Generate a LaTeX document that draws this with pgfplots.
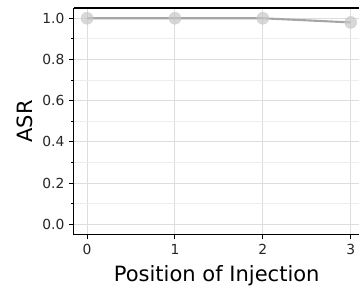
\documentclass[border=0pt]{standalone}
\usepackage{pgfplots}
\pgfplotsset{compat=1.18}
\usepackage{fontspec}
\setmainfont{DejaVu Sans}
\definecolor{gridmaj}{HTML}{DDDDDD}
\definecolor{gridmin}{HTML}{EEEEEE}
\definecolor{lin}{HTML}{A6A6A6}
\definecolor{mrk}{HTML}{C8C8C8}
\begin{document}
\begin{tikzpicture}
\begin{axis}[
  scale only axis,
  width=214.5pt, height=170.25pt,
  at={(0,0)}, anchor=south west,
  xmin=-0.15, xmax=3.10,
  ymin=-0.05, ymax=1.05,
  separate axis lines,
  axis x line=box,
  axis y line=left,
  axis line style={black, line width=0.8pt, -},
  xtick={0,1,2,3},
  ytick={0,0.2,0.4,0.6,0.8,1.0},
  minor ytick={0.1,0.3,0.5,0.7,0.9},
  tick align=outside,
  xtick pos=bottom, ytick pos=left,
  major tick length=3.6pt, minor tick length=2pt,
  tick style={black, line width=0.8pt},
  grid=both,
  major grid style={gridmaj, line width=0.8pt},
  minor grid style={gridmin, line width=0.6pt},
  yticklabel style={/pgf/number format/.cd, fixed, fixed zerofill, precision=1},
  /pgf/number format/assume math mode=true,
  ticklabel style={font=\fontsize{10.4}{12}\selectfont, text=black!85},
  xlabel={Position of Injection},
  ylabel={ASR},
  label style={font=\fontsize{15.8}{18}\selectfont},
  xlabel style={yshift=-1.5pt},
  ylabel style={yshift=0pt},
  clip=false,
]
\addplot[only marks, mark=*, mark size=4.5pt,
  mark options={fill=mrk, draw=mrk, fill opacity=0.7, draw opacity=0.7}]
  coordinates {(0,1.0) (1,1.0) (2,1.0) (3,0.98)};
\addplot[lin, line width=1.6pt, mark=none]
  coordinates {(0,1.0) (1,1.0) (2,1.0) (3,0.98)};
\end{axis}
\path[use as bounding box] (-55.5pt,-41.25pt) rectangle (214.5pt,176.25pt);
\end{tikzpicture}
\end{document}
